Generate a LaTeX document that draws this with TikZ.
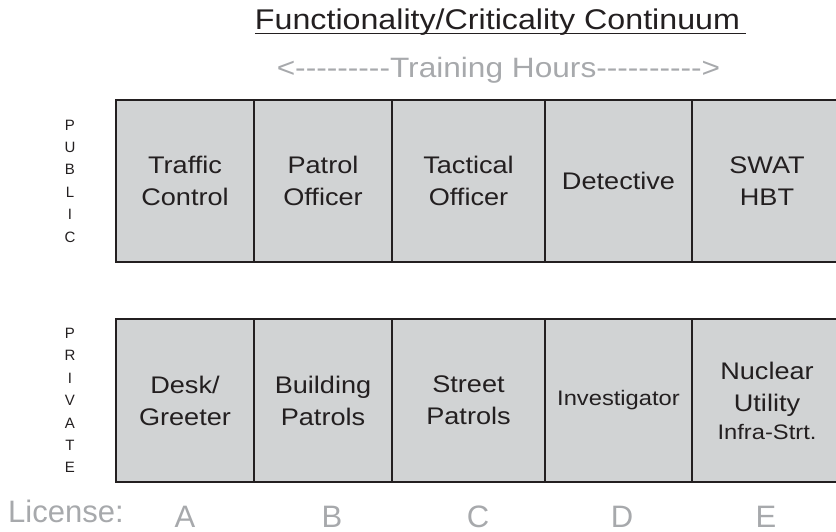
\documentclass[tikz,border=0pt]{standalone}
\usepackage{fontspec}
\setmainfont{Liberation Sans}
\newfontfamily\widesans{Liberation Sans}[FakeStretch=1.13]
\definecolor{ink}{HTML}{231F20}
\definecolor{cellgray}{HTML}{D1D3D4}
\definecolor{softgray}{HTML}{A7A9AC}
\newcommand{\dashrun}[1]{\foreach \k in {1,...,#1}{-{}}}
\begin{document}
\begin{tikzpicture}[x=1pt,y=-1pt,
  cell/.style={draw=ink, line width=2pt, fill=cellgray, inner sep=0pt,
    align=center, text=ink, font=\widesans\fontsize{24}{32}\selectfont},
  toprow/.style={cell, minimum height=162pt},
  botrow/.style={cell, minimum height=163pt},
  sidelabel/.style={align=center, text=ink, inner sep=0pt,
    font=\fontsize{15}{22.4}\selectfont},
  grade/.style={anchor=base, text=softgray, inner sep=0pt,
    font=\fontsize{31}{31}\selectfont}]
\useasboundingbox (0,0) rectangle (836,532);

% heading
\node[anchor=base, inner sep=0pt, text=ink, font=\widesans\fontsize{28.5}{32}\selectfont]
  (title) at (497.5,30) {Functionality/Criticality Continuum};
\draw[ink, line width=1.5pt] ([yshift=-3.5pt]title.base west) -- ([xshift=6pt,yshift=-3.5pt]title.base east);
\node[anchor=base, inner sep=0pt, text=softgray, font=\widesans\fontsize{28}{32}\selectfont]
  (hours) at (498.5,78) {<\dashrun{9}Training Hours\dashrun{10}>};

% public sector row
\node[toprow, minimum width=138pt] (pub1) at (185,181) {Traffic\\Control};
\node[toprow, minimum width=138pt] (pub2) at (323,181) {Patrol\\Officer};
\node[toprow, minimum width=153pt] (pub3) at (468.5,181) {Tactical\\Officer};
\node[toprow, minimum width=147pt] (pub4) at (618.5,181) {Detective};
\node[toprow, minimum width=150pt] (pub5) at (767,181) {SWAT\\HBT};

% private sector row
\node[botrow, minimum width=138pt] (pri1) at (185,400.5) {Desk/\\Greeter};
\node[botrow, minimum width=138pt] (pri2) at (323,400.5) {Building\\Patrols};
\node[botrow, minimum width=153pt] (pri3) at (468.5,400.5) {Street\\Patrols};
\node[botrow, minimum width=147pt] (pri4) at (618.5,400.5) {\fontsize{21}{32}\selectfont Investigator};
\node[botrow, minimum width=150pt] (pri5) at (767,400.5)
  {Nuclear\\Utility\\[-4pt]{\fontsize{21}{28}\selectfont Infra-Strt.}};

% sector labels
\node[sidelabel] (public) at (70,181) {P\\U\\B\\L\\I\\C};
\node[sidelabel] (private) at (70,400.5) {P\\R\\I\\V\\A\\T\\E};

% license grades
\node[anchor=base west, inner sep=0pt, text=softgray, font=\fontsize{31}{31}\selectfont]
  (license) at (8,522) {License:};
\node[grade] (gA) at (185,527) {A};
\node[grade] (gB) at (332,527) {B};
\node[grade] (gC) at (478,527) {C};
\node[grade] (gD) at (622,527) {D};
\node[grade] (gE) at (766,527) {E};
\end{tikzpicture}
\end{document}
